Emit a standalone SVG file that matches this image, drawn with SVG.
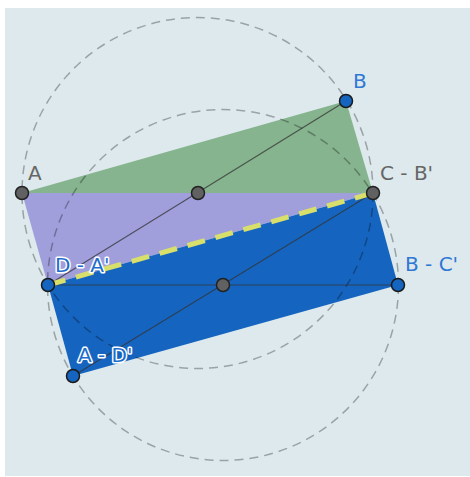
<svg xmlns="http://www.w3.org/2000/svg" width="470" height="477" viewBox="0 0 470 477">
<style>
.lbl{font-family:"DejaVu Sans","Liberation Sans",sans-serif;font-size:20px}
.gray{fill:#666}
.blue{fill:#2f78d4}
.halo{fill:#1e6ccc;stroke:#fff;stroke-width:3;paint-order:stroke;stroke-linejoin:round}
.circ{fill:none;stroke:#000;stroke-opacity:0.3;stroke-width:1.5;stroke-dasharray:9 6}
.seg{stroke:#333;stroke-opacity:0.75;stroke-width:1.2;fill:none}
.pg{fill:#616161;stroke:#222;stroke-width:1.5}
.pb{fill:#1565c0;stroke:#1a1a1a;stroke-width:1.5}
</style>
<rect x="5" y="8" width="465" height="468" fill="#dde9ec"/>
<g id="shapes">
<polygon points="22,193 346,101 373,193" fill="#86b48f"/>
<polygon points="22,193 373,193 48,285" fill="#a09fdc"/>
<polygon points="48,285 373,193 398,285 73,376" fill="#1565c0"/>
</g>
<g id="circles">
<circle class="circ" cx="197.5" cy="193" r="175.5"/>
<circle class="circ" cx="223" cy="285" r="175.5"/>
</g>
<g id="connectors">
<line class="seg" x1="346" y1="101" x2="48" y2="285"/>
<line class="seg" x1="48" y1="285" x2="398" y2="285"/>
<line class="seg" x1="373" y1="193" x2="73" y2="376"/>
<line x1="48" y1="285" x2="373" y2="193" stroke="#d8df6a" stroke-width="5" stroke-dasharray="18 11"/>
</g>
<g id="A"><circle class="pg" cx="22" cy="193" r="6.5"/><text class="lbl gray" x="28" y="180">A</text></g>
<g id="M1"><circle class="pg" cx="198" cy="193" r="6.5"/></g>
<g id="CB"><circle class="pg" cx="373" cy="193" r="6.5"/><text class="lbl gray" x="380" y="180">C - B'</text></g>
<g id="M2"><circle class="pg" cx="223" cy="285" r="6.5"/></g>
<g id="B"><circle class="pb" cx="346" cy="101" r="6.5"/><text class="lbl blue" x="353" y="88">B</text></g>
<g id="DA"><circle class="pb" cx="48" cy="285" r="6.5"/><text class="lbl halo" x="55" y="272">D - A'</text></g>
<g id="BC"><circle class="pb" cx="398" cy="285" r="6.5"/><text class="lbl blue" x="405" y="271">B - C'</text></g>
<g id="AD"><circle class="pb" cx="73" cy="376" r="6.5"/><text class="lbl halo" x="78" y="362">A - D'</text></g>
</svg>
